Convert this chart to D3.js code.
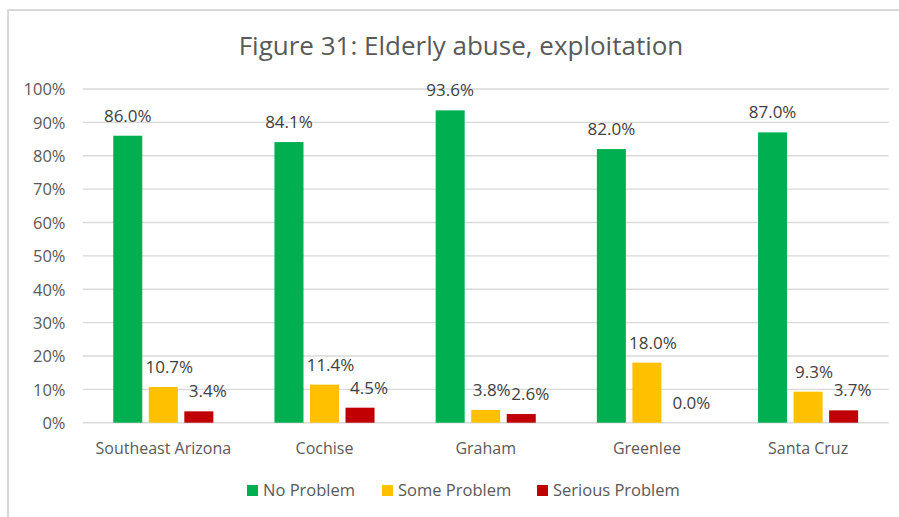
<!DOCTYPE html>
<html>
<head>
<meta charset="utf-8">
<script src="https://cdn.jsdelivr.net/npm/d3@7/dist/d3.min.js"></script>
<style>
  html, body { margin: 0; padding: 0; background: #ffffff; }
  svg { display: block; }
  text { font-family: "Open Sans", "Noto Sans", sans-serif; }
</style>
</head>
<body>
<svg id="chart" width="899" height="517"></svg>
<script>
// ---- data ----
const categories = ["Southeast Arizona", "Cochise", "Graham", "Greenlee", "Santa Cruz"];
const seriesNames = ["No Problem", "Some Problem", "Serious Problem"];
const noProblem = [0.860, 0.841, 0.936, 0.820, 0.870];
const someProblem = [0.107, 0.114, 0.038, 0.180, 0.093];
const seriousProblem = [0.034, 0.045, 0.026, 0.000, 0.037];
const yTickValues = [0, 0.1, 0.2, 0.3, 0.4, 0.5, 0.6, 0.7, 0.8, 0.9, 1.0];
const titleText = "Figure 31: Elderly abuse, exploitation";

// ---- styles ----
const colors = ["#00b050", "#ffc000", "#c00000"];
const labelDx = [0, 6, 9];

const seriesValues = [noProblem, someProblem, seriousProblem];
const svg = d3.select("#chart");

// chart border (right/bottom cut off in the reference)
svg.append("rect")
  .attr("x", 8).attr("y", 10)
  .attr("width", 1000).attr("height", 1000)
  .attr("fill", "#ffffff")
  .attr("stroke", "#d9d9d9").attr("stroke-width", 2);

const plot = { left: 82.7, right: 888.7, top: 89, bottom: 422.7 };

const x0 = d3.scaleBand().domain(categories).range([plot.left, plot.right]).padding(0);
const x1 = d3.scaleBand().domain(seriesNames).range([0, x0.bandwidth()])
  .paddingInner(0.183).paddingOuter(0.86);
const y = d3.scaleLinear().domain([0, 1]).range([plot.bottom, plot.top]);

// title
svg.append("text")
  .attr("x", 461).attr("y", 46)
  .attr("text-anchor", "middle").attr("dy", "0.35em")
  .attr("fill", "#595959").attr("font-size", 26)
  .text(titleText);

// gridlines
svg.append("g").selectAll("line").data(yTickValues).join("line")
  .attr("x1", plot.left).attr("x2", plot.right)
  .attr("y1", d => y(d)).attr("y2", d => y(d))
  .attr("stroke", "#d9d9d9").attr("stroke-width", 1.4);

// y axis labels
const yAxis = d3.axisLeft(y).tickValues(yTickValues).tickFormat(d3.format(".0%")).tickSize(0).tickPadding(0);
const yg = svg.append("g").attr("transform", "translate(65.5,0)").call(yAxis);
yg.select(".domain").remove();
yg.selectAll("text").attr("fill", "#595959").attr("font-size", 16.5)
  .attr("font-family", "'Open Sans', sans-serif").attr("dy", "0.35em");

// x axis labels
const xAxis = d3.axisBottom(x0).tickSize(0).tickPadding(0);
const xg = svg.append("g").attr("transform", "translate(0,448)").call(xAxis);
xg.select(".domain").remove();
xg.selectAll("text").attr("fill", "#595959").attr("font-size", 16)
  .attr("font-family", "'Open Sans', sans-serif").attr("dy", "0.35em");

// bars
const rows = [];
categories.forEach((c, i) => {
  seriesNames.forEach((s, j) => {
    rows.push({ cat: c, series: s, si: j, value: seriesValues[j][i] });
  });
});

svg.append("g").selectAll("rect").data(rows).join("rect")
  .attr("x", d => x0(d.cat) + x1(d.series))
  .attr("width", x1.bandwidth())
  .attr("y", d => y(d.value))
  .attr("height", d => y(0) - y(d.value))
  .attr("fill", d => colors[d.si]);

// data labels
svg.append("g").selectAll("text").data(rows).join("text")
  .attr("x", d => x0(d.cat) + x1(d.series) + x1.bandwidth() / 2 + labelDx[d.si])
  .attr("y", d => y(d.value) - 20)
  .attr("dy", "0.35em")
  .attr("text-anchor", "middle")
  .attr("fill", "#404040").attr("font-size", 17)
  .text(d => d3.format(".1%")(d.value));

// legend
const legendX = [247, 382, 537];
const lg = svg.append("g").selectAll("g").data(seriesNames).join("g")
  .attr("transform", (d, i) => `translate(${legendX[i]},490.5)`);
lg.append("rect").attr("x", 0).attr("y", -5.5).attr("width", 11).attr("height", 11)
  .attr("fill", (d, i) => colors[i]);
lg.append("text").attr("x", 16).attr("dy", "0.35em")
  .attr("fill", "#595959").attr("font-size", 16.5)
  .text(d => d);
</script>
</body>
</html>
